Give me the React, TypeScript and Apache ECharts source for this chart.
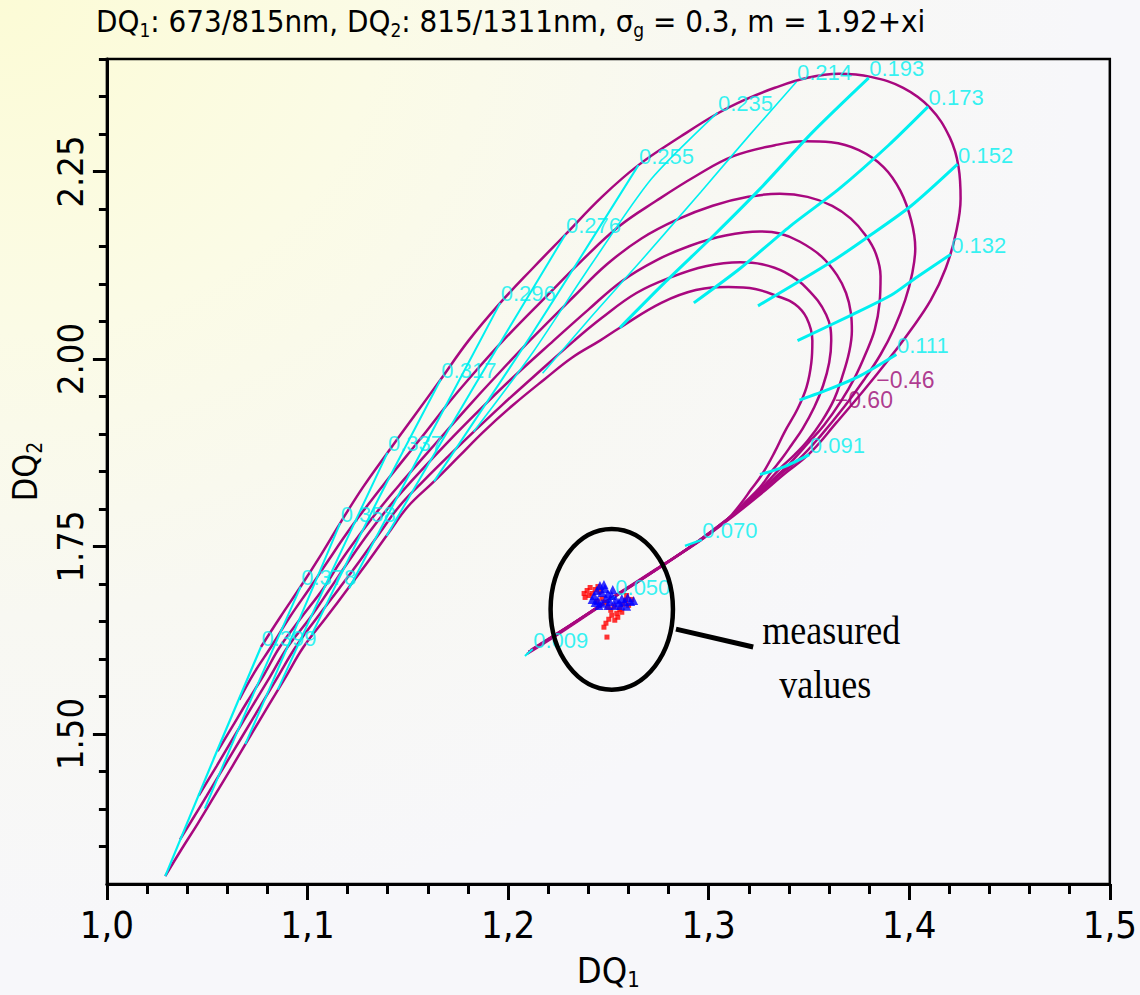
import React, { useEffect, useRef } from "react";
import * as echarts from "echarts";

// ---------- data (DQ1, DQ2) ----------
const xRange = [1.0, 1.5];
const yRange = [1.3, 2.4];
const yMajorTicks = [1.5, 1.75, 2.0, 2.25];
const yMinorTicks = [1.35, 1.4, 1.45, 1.5, 1.55, 1.6, 1.65, 1.7, 1.75, 1.8, 1.85, 1.9, 1.95, 2.0, 2.05, 2.1, 2.15, 2.2, 2.25, 2.3, 2.35, 2.4];

const curve1 = [[1.2113,1.6120],[1.2310,1.6451],[1.2512,1.6808],[1.2734,1.7191],[1.2956,1.7574],[1.3128,1.7918],
[1.3246,1.8169],[1.3374,1.8460],[1.3502,1.8738],[1.3640,1.9161],[1.3778,1.9597],[1.3897,1.9994],[1.4005,2.0377],[1.4108,2.0787],[1.4182,2.1210],[1.4232,2.1673],[1.4256,2.2136],[1.4246,2.2559],[1.4202,2.2955],[1.4103,2.3352],[1.3970,2.3616],[1.3808,2.3762],[1.3650,2.3802],[1.3493,2.3749],[1.3330,2.3616],[1.3182,2.3458],[1.3044,2.3273],[1.2862,2.2969],[1.2650,2.2585],[1.2468,2.2162],[1.2286,2.1660],[1.2123,2.1210],[1.1961,2.0748],[1.1803,2.0245],[1.1665,1.9730],[1.1532,1.9240],[1.1399,1.8751],[1.1276,1.8288],[1.1163,1.7812],[1.1064,1.7376],[1.0966,1.6966],[1.0867,1.6570],[1.0768,1.6160]];

const curve2 = [[1.2103,1.6094],[1.2296,1.6424],[1.2493,1.6768],[1.2714,1.7151],[1.2936,1.7548],[1.3108,1.7892],
[1.3236,1.8169],[1.3345,1.8434],[1.3453,1.8672],[1.3562,1.8989],[1.3675,1.9359],[1.3773,1.9716],[1.3857,2.0060],[1.3926,2.0417],[1.3980,2.0787],[1.4015,2.1144],[1.4030,2.1475],[1.4010,2.1845],[1.3956,2.2241],[1.3872,2.2559],[1.3749,2.2784],[1.3611,2.2889],[1.3478,2.2903],[1.3330,2.2850],[1.3123,2.2704],[1.2936,2.2440],[1.2739,2.2109],[1.2552,2.1766],[1.2369,2.1316],[1.2197,2.0853],[1.1975,2.0245],[1.1803,1.9730],[1.1695,1.9386],[1.1591,1.9029],[1.1483,1.8672],[1.1384,1.8341],[1.1296,1.8037],[1.1197,1.7680],[1.1103,1.7310],[1.1010,1.6940],[1.0911,1.6556],[1.0818,1.6160],[1.0734,1.5816],[1.0660,1.5459]];

const curve3 = [[1.2103,1.6094],[1.2296,1.6424],[1.2493,1.6768],[1.2714,1.7151],[1.2936,1.7548],[1.3108,1.7892],
[1.3217,1.8143],[1.3315,1.8381],[1.3404,1.8606],[1.3493,1.8870],[1.3576,1.9121],[1.3660,1.9439],[1.3729,1.9756],[1.3783,2.0073],[1.3828,2.0391],[1.3852,2.0748],[1.3857,2.1104],[1.3833,2.1409],[1.3783,2.1647],[1.3709,2.1871],[1.3616,2.2043],[1.3493,2.2162],[1.3355,2.2202],[1.3197,2.2162],[1.3020,2.2043],[1.2842,2.1858],[1.2665,2.1607],[1.2493,2.1263],[1.2330,2.0840],[1.2108,2.0245],[1.1926,1.9730],[1.1808,1.9386],[1.1690,1.9029],[1.1581,1.8698],[1.1473,1.8368],[1.1369,1.8037],[1.1266,1.7680],[1.1167,1.7310],[1.1079,1.6940],[1.0970,1.6556],[1.0862,1.6160],[1.0783,1.5790],[1.0700,1.5433],[1.0626,1.5102],[1.0552,1.4772]];

const curve4 = [[1.2103,1.6094],[1.2296,1.6424],[1.2493,1.6768],[1.2714,1.7151],[1.2936,1.7548],[1.3108,1.7892],
[1.3202,1.8117],[1.3286,1.8341],[1.3360,1.8553],[1.3429,1.8725],[1.3493,1.8910],[1.3562,1.9161],[1.3626,1.9465],[1.3665,1.9756],[1.3700,2.0086],[1.3714,2.0377],[1.3709,2.0615],[1.3685,2.0880],[1.3640,2.1118],[1.3562,2.1369],[1.3453,2.1567],[1.3355,2.1673],[1.3256,2.1700],[1.3084,2.1647],[1.2911,2.1514],[1.2739,2.1316],[1.2567,2.1038],[1.2399,2.0655],[1.2227,2.0245],[1.2015,1.9730],[1.1882,1.9386],[1.1749,1.9029],[1.1631,1.8698],[1.1517,1.8368],[1.1409,1.8037],[1.1305,1.7680],[1.1207,1.7310],[1.1113,1.6940],[1.1015,1.6556],[1.0901,1.6160],[1.0813,1.5763],[1.0724,1.5367],[1.0635,1.4970],[1.0547,1.4573],[1.0458,1.4177]];

const curve5 = [[1.2103,1.6094],[1.2296,1.6424],[1.2493,1.6768],[1.2714,1.7151],[1.2936,1.7548],[1.3108,1.7892],
[1.3182,1.8090],[1.3256,1.8288],[1.3310,1.8487],[1.3365,1.8672],[1.3414,1.8857],[1.3468,1.9068],[1.3527,1.9359],[1.3571,1.9650],[1.3601,1.9954],[1.3611,2.0245],[1.3586,2.0589],[1.3488,2.0946],[1.3379,2.1157],[1.3266,2.1263],[1.3158,2.1290],[1.2985,2.1237],[1.2813,2.1091],[1.2640,2.0880],[1.2468,2.0549],[1.2330,2.0245],[1.2113,1.9730],[1.1970,1.9386],[1.1828,1.9029],[1.1700,1.8698],[1.1576,1.8368],[1.1458,1.8037],[1.1360,1.7680],[1.1261,1.7310],[1.1158,1.6940],[1.1049,1.6556],[1.0941,1.6160],[1.0852,1.5763],[1.0764,1.5367],[1.0675,1.4970],[1.0586,1.4573],[1.0498,1.4177],[1.0429,1.3873],[1.0365,1.3595]];

const curve6 = [[1.2094,1.6067],[1.2281,1.6385],[1.2473,1.6728],[1.2695,1.7112],[1.2916,1.7508],[1.3089,1.7852],
[1.3158,1.8064],[1.3212,1.8262],[1.3266,1.8460],[1.3330,1.8764],[1.3379,1.9029],[1.3443,1.9333],[1.3488,1.9624],[1.3512,1.9954],[1.3517,2.0245],[1.3488,2.0549],[1.3429,2.0734],[1.3340,2.0840],[1.3232,2.0933],[1.3099,2.0959],[1.2936,2.0919],[1.2764,2.0748],[1.2557,2.0417],[1.2458,2.0245],[1.2320,2.0020],[1.2182,1.9730],[1.2025,1.9386],[1.1877,1.9029],[1.1754,1.8698],[1.1631,1.8368],[1.1502,1.8037],[1.1404,1.7680],[1.1305,1.7310],[1.1202,1.6940],[1.1094,1.6556],[1.0980,1.6160],[1.0892,1.5763],[1.0803,1.5367],[1.0714,1.4970],[1.0626,1.4573],[1.0537,1.4177],[1.0453,1.3806],[1.0369,1.3450],[1.0291,1.3106]];

const curves = [curve1, curve2, curve3, curve4, curve5, curve6];

// constant-radius lines (inner end -> outer end) and their labels
const radiusLabels = ["0.009","0.050","0.070","0.091","0.111","0.132","0.152","0.173","0.193","0.214","0.235","0.255","0.276","0.296","0.317","0.337","0.358","0.378","0.399"];
const radiusLines = [
  [[1.2084,1.6041],[1.2123,1.6133]],
  [[1.2478,1.6728],[1.2532,1.6834]],
  [[1.2882,1.7508],[1.2966,1.7588]],
  [[1.3256,1.8460],[1.3379,1.8566],[1.3502,1.8725]],
  [[1.3453,1.9452],[1.3601,1.9597],[1.3759,1.9782],[1.3936,2.0060]],
  [[1.3443,2.0245],[1.3714,2.0589],[1.3911,2.0853],[1.4030,2.1078],[1.4207,2.1395]],
  [[1.3246,2.0708],[1.3616,2.1303],[1.3783,2.1607],[1.4010,2.2043],[1.4241,2.2598]],
  [[1.2926,2.0748],[1.3158,2.1210],[1.3404,2.1766],[1.3650,2.2268],[1.3897,2.2850],[1.4094,2.3365]],
  [[1.2557,2.0417],[1.2788,2.1038],[1.3025,2.1647],[1.3256,2.2268],[1.3517,2.3022],[1.3798,2.3749]],
  [[1.2172,1.9809],[1.2419,2.0576],[1.2665,2.1316],[1.2961,2.2228],[1.3207,2.2995],[1.3438,2.3696]],
  [[1.1828,1.9029],[1.2123,2.0086],[1.2419,2.1276],[1.2714,2.2400],[1.3044,2.3286]],
  [[1.1631,1.8368],[1.2123,2.0351],[1.2650,2.2585]],
  [[1.1394,1.7641],[1.1828,1.9624],[1.2286,2.1660]],
  [[1.1207,1.6940],[1.1581,1.8830],[1.1961,2.0748]],
  [[1.1020,1.6318],[1.1335,1.8037],[1.1665,1.9730]],
  [[1.0852,1.5591],[1.1123,1.7178],[1.1399,1.8751]],
  [[1.0690,1.4864],[1.0926,1.6318],[1.1163,1.7812]],
  [[1.0488,1.4005],[1.0729,1.5525],[1.0966,1.6966]],
  [[1.0291,1.3106],[1.0532,1.4666],[1.0768,1.6160]],
];
const radiusWidths = [2, 2, 2.5, 3, 3, 3, 3, 3, 3, 1.6, 1.6, 2, 2, 2, 2, 2, 2, 2, 2.2];

const curveLabelText = ["\u22120.46", "\u22120.60"];
const curveLabelAt = [[1.3833, 1.9716], [1.3626, 1.9452]];

const redPoints = [[1.2379,1.6874],[1.2394,1.6913],[1.2409,1.6953],[1.2419,1.6874],[1.2434,1.6927],[1.2448,1.6966],[1.2384,1.6821],[1.2404,1.6847],[1.2458,1.6900],[1.2468,1.6808],[1.2483,1.6755],[1.2498,1.6689],[1.2512,1.6649],[1.2527,1.6702],[1.2542,1.6609],[1.2557,1.6662],[1.2571,1.6728],[1.2586,1.6781],[1.2601,1.6715],[1.2517,1.6583],[1.2502,1.6530],[1.2488,1.6477],[1.2478,1.6424],[1.2532,1.6517],[1.2547,1.6556],[1.2567,1.6623],[1.2493,1.6292],[1.2591,1.6847],[1.2443,1.6768],[1.2616,1.6794]];
const bluePoints = [[1.2429,1.6847],[1.2443,1.6913],[1.2458,1.6980],[1.2468,1.6887],[1.2483,1.6940],[1.2498,1.6874],[1.2448,1.6781],[1.2468,1.6742],[1.2488,1.6808],[1.2507,1.6768],[1.2517,1.6847],[1.2478,1.6993],[1.2453,1.6715],[1.2434,1.6755],[1.2522,1.6927],[1.2537,1.6794],[1.2552,1.6755],[1.2567,1.6808],[1.2581,1.6768],[1.2596,1.6821],[1.2611,1.6768],[1.2626,1.6781],[1.2562,1.6715],[1.2591,1.6702],[1.2532,1.6715],[1.2498,1.6715],[1.2419,1.6794]];

// annotation
const ellipseCenter = [1.2517, 1.6662];
const ellipseRadii = [0.0305, 0.1071];
const leaderLine = [[1.2837, 1.6398], [1.3222, 1.6160]];
const noteText = ["measured", "values"];
const noteAt = [[1.3611, 1.6385], [1.3581, 1.5657]];

// ---------- styling ----------
const MAGENTA = "#a8087f";
const CYAN = "#00f0f0";
const NARROW = "'Liberation Sans Narrow', 'Arial Narrow', 'DejaVu Sans Condensed', 'Liberation Sans', sans-serif";
const SANS = "'Liberation Sans', Arial, sans-serif";

export default function App() {
  const ref = useRef<HTMLDivElement>(null);

  useEffect(() => {
    if (!ref.current) return;
    const chart = echarts.init(ref.current, undefined, { renderer: "svg" });

    const series: any[] = [];
    curves.forEach((c, i) => {
      series.push({
        type: "line",
        name: "curve" + (i + 1),
        data: c,
        showSymbol: false,
        smooth: 0.4,
        silent: true,
        z: 2,
        lineStyle: { color: MAGENTA, width: 2.5 },
      });
    });
    radiusLines.forEach((l, i) => {
      series.push({
        type: "line",
        name: "r" + radiusLabels[i],
        data: l,
        showSymbol: false,
        smooth: 0.25,
        silent: true,
        z: 3,
        lineStyle: { color: CYAN, width: radiusWidths[i] },
      });
    });
    series.push({
      type: "line",
      name: "leader",
      data: leaderLine,
      showSymbol: false,
      silent: true,
      z: 4,
      lineStyle: { color: "#000", width: 5 },
    });
    series.push({
      type: "scatter",
      name: "red",
      data: redPoints,
      symbol: "rect",
      symbolSize: 5,
      z: 5,
      itemStyle: { color: "#ff0000" },
    });
    series.push({
      type: "scatter",
      name: "blue",
      data: bluePoints,
      symbol: "triangle",
      symbolSize: 9,
      z: 6,
      itemStyle: { color: "#0000ff" },
    });
    series.push({
      type: "scatter",
      name: "radiusLabels",
      data: radiusLines.map((l, i) => ({ value: l[l.length - 1], name: radiusLabels[i] })),
      symbolSize: 1,
      itemStyle: { color: "rgba(0,0,0,0)" },
      z: 7,
      label: {
        show: true,
        formatter: "{b}",
        position: "right",
        distance: 0,
        offset: [0, -9],
        color: CYAN,
        fontFamily: SANS,
        fontSize: 22,
      },
    });
    series.push({
      type: "scatter",
      name: "curveLabels",
      data: curveLabelAt.map((p, i) => ({ value: p, name: curveLabelText[i] })),
      symbolSize: 1,
      itemStyle: { color: "rgba(0,0,0,0)" },
      z: 7,
      label: {
        show: true,
        formatter: "{b}",
        position: "right",
        distance: 0,
        offset: [0, 0],
        color: "#9c0874",
        fontFamily: SANS,
        fontSize: 23,
      },
    });

    chart.setOption({
      animation: false,
      backgroundColor: "transparent",
      title: {
        text: "{a|DQ}{b|1}{a|: 673/815nm, DQ}{b|2}{a|: 815/1311nm, \u03c3}{b|g}{a| = 0.3, m = 1.92+xi}",
        left: 96,
        top: 3,
        padding: 0,
        textStyle: {
          fontWeight: "normal",
          rich: {
            a: { fontFamily: NARROW, fontWeight: "normal", fontSize: 31, color: "#000", lineHeight: 36 },
            b: { fontFamily: NARROW, fontWeight: "normal", fontSize: 19, color: "#000", lineHeight: 36, verticalAlign: "bottom" },
          },
        },
      },
      grid: {
        left: 99,
        right: 26,
        top: 59,
        bottom: 104,
        show: true,
        borderColor: "#000",
        borderWidth: 2.5,
        backgroundColor: "transparent",
      },
      xAxis: {
        type: "value",
        min: xRange[0],
        max: xRange[1],
        interval: 0.1,
        name: "{a|DQ}{b|1}",
        nameLocation: "middle",
        nameGap: 66,
        nameTextStyle: {
          rich: {
            a: { fontFamily: NARROW, fontSize: 36, color: "#000", lineHeight: 40 },
            b: { fontFamily: NARROW, fontSize: 22, color: "#000", lineHeight: 40, verticalAlign: "bottom" },
          },
        },
        axisLine: { show: true, lineStyle: { color: "#000", width: 3 } },
        axisTick: { show: true, length: 16, lineStyle: { color: "#000", width: 3 } },
        minorTick: { show: true, splitNumber: 5, length: 10, lineStyle: { color: "#000", width: 3 } },
        splitLine: { show: false },
        axisLabel: {
          margin: 22,
          color: "#000",
          fontFamily: NARROW,
          fontSize: 38,
          formatter: (v: number) => v.toFixed(1).replace(".", ","),
        },
      },
      yAxis: [
        {
          type: "value",
          min: yRange[0],
          max: yRange[1],
          name: "{a|DQ}{b|2}",
          nameLocation: "middle",
          nameGap: 58,
          nameTextStyle: {
            rich: {
              a: { fontFamily: NARROW, fontSize: 34, color: "#000", lineHeight: 40 },
              b: { fontFamily: NARROW, fontSize: 21, color: "#000", lineHeight: 40, verticalAlign: "bottom" },
            },
          },
          axisLine: { show: true, lineStyle: { color: "#000", width: 3 } },
          axisTick: { show: true, length: 14, customValues: yMajorTicks, lineStyle: { color: "#000", width: 3 } },
          splitLine: { show: false },
          axisLabel: {
            customValues: yMajorTicks,
            rotate: 90,
            margin: 18,
            color: "#000",
            fontFamily: NARROW,
            fontSize: 36,
            formatter: (v: number) => v.toFixed(2),
          },
        },
        {
          type: "value",
          min: yRange[0],
          max: yRange[1],
          position: "left",
          axisLine: { show: false },
          axisLabel: { show: false },
          splitLine: { show: false },
          axisTick: { show: true, length: 8, customValues: yMinorTicks, lineStyle: { color: "#000", width: 3 } },
        },
      ],
      series,
    });

    const finder = { seriesIndex: 0 };
    const c = chart.convertToPixel(finder, ellipseCenter) as number[];
    const ex = chart.convertToPixel(finder, [ellipseCenter[0] + ellipseRadii[0], ellipseCenter[1]]) as number[];
    const ey = chart.convertToPixel(finder, [ellipseCenter[0], ellipseCenter[1] + ellipseRadii[1]]) as number[];
    const notes = noteAt.map((p, i) => {
      const q = chart.convertToPixel(finder, p) as number[];
      return {
        type: "text",
        x: q[0],
        y: q[1],
        scaleX: 0.9,
        z: 100,
        style: {
          text: noteText[i],
          fontFamily: "'Liberation Serif', 'Times New Roman', serif",
          fontSize: 40,
          fill: "#000",
          align: "center",
          verticalAlign: "middle",
          textAlign: "center",
          textVerticalAlign: "middle",
        },
      };
    });
    chart.setOption({
      graphic: [
        {
          type: "ellipse",
          z: 100,
          shape: { cx: c[0], cy: c[1], rx: Math.abs(ex[0] - c[0]), ry: Math.abs(c[1] - ey[1]) },
          style: { fill: "none", stroke: "#000", lineWidth: 4.5 },
        },
        ...notes,
      ],
    });

    return () => chart.dispose();
  }, []);

  return (
    <div
      ref={ref}
      style={{
        position: "absolute",
        left: 0,
        top: 0,
        width: 1140,
        height: 995,
        background:
          "radial-gradient(ellipse 95% 95% at 0% 0%, #fcfbd6 0%, #fbfbe6 35%, #f8f8f2 65%, #f7f7fa 100%)",
      }}
    />
  );
}
